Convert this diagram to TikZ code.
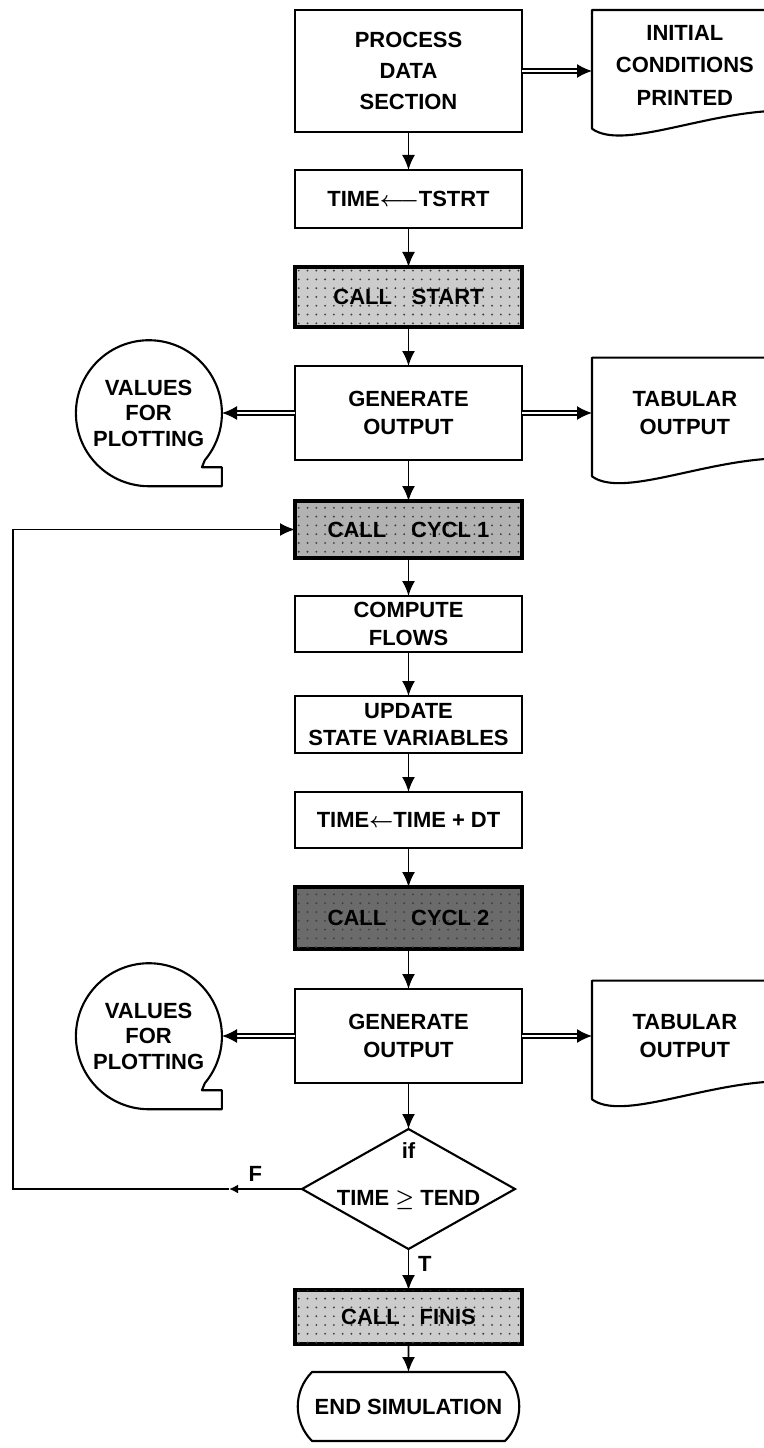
\documentclass[tikz,border=0pt]{standalone}
\usepackage{fontspec}
\setmainfont{Liberation Sans}
\usepackage{amsmath,amssymb}
\usepackage{tikz}
\usetikzlibrary{positioning,arrows.meta,shapes.geometric,shapes.misc,patterns.meta}
\tikzset{
block/.style={
draw,
line width=1.2pt,
outer sep=0pt,
minimum width=4.54cm,
minimum height=1.16cm,
align=center,
inner sep=1pt,
font=\fontsize{12.5}{15.5}\selectfont\bfseries
},
callbox/.style={
block,
line width=2.2pt,
fill=black!20,
postaction={pattern={Dots[distance=5pt,radius=0.6pt]},pattern color=black!75}
},
decision/.style={
diamond,
draw,
line width=1.2pt,
outer sep=0pt,
minimum width=4.26cm,
minimum height=2.4cm,
inner sep=0pt
},
terminal/.style={
rounded rectangle,
rounded rectangle arc length=90,
draw,
line width=1.2pt,
outer sep=0pt,
minimum width=4.5cm,
minimum height=1.38cm,
inner sep=1pt,
font=\fontsize{12.5}{15.5}\selectfont\bfseries
},
docnode/.style={
minimum width=3.7cm,
minimum height=2.2cm,
align=center,
inner sep=0pt,
font=\fontsize{12.5}{15.5}\selectfont\bfseries
},
tapenode/.style={
circle,
minimum size=2.92cm,
align=center,
inner sep=0pt,
font=\fontsize{12.5}{14.5}\selectfont\bfseries
},
outline/.style={
line width=1.2pt,
line join=round
},
lbl/.style={
inner sep=1pt,
font=\fontsize{12.5}{15.5}\selectfont\bfseries
},
arrow/.style={
-{Latex[length=3mm,width=2.6mm]},
line width=1.1pt
},
dblarrow/.style={
-{Latex[length=3mm,width=2.8mm]},
line width=0.9pt,
double,
double distance=1.4pt
}
}
\begin{document}
\begin{tikzpicture}[node distance=7.8mm]
\useasboundingbox (0,0) rectangle (15.28,-28.96);
% main column
\node[block,minimum height=2.44cm] (process) at (8.17,-1.42) {PROCESS\\[2pt]DATA\\[2pt]SECTION};
\node[block,below=7.6mm of process] (tstrt) {TIME$\boldsymbol{\longleftarrow}$TSTRT};
\node[callbox,minimum height=1.2cm,below=of tstrt] (start) {CALL\hspace{4mm}START};
\node[block,minimum height=1.88cm,below=of start] (gen1) {GENERATE\\OUTPUT};
\node[callbox,fill=black!30,minimum height=1.14cm,below=8.2mm of gen1] (cycl1) {CALL\hspace{5mm}CYCL 1};
\node[block,minimum height=1.12cm,below=7.6mm of cycl1] (flows) {COMPUTE\\FLOWS};
\node[block,minimum height=1.14cm,below=8.8mm of flows] (update) {UPDATE\\STATE VARIABLES};
\node[block,minimum height=1.12cm,below=7.8mm of update] (tdt) {TIME$\boldsymbol{\leftarrow}$TIME + DT};
\node[callbox,fill=black!58,minimum height=1.24cm,below=7.8mm of tdt] (cycl2) {CALL\hspace{5mm}CYCL 2};
\node[block,minimum height=1.88cm,below=8mm of cycl2] (gen2) {GENERATE\\OUTPUT};
\node[decision,below=9.2mm of gen2] (test) {};
\node[lbl,align=center] (testtext) at ([yshift=0.26cm]test.center) {if\\[0.4cm]TIME $\boldsymbol{\geq}$ TEND};
\node[callbox,minimum height=1.08cm,below=8.2mm of test] (finis) {CALL\hspace{4mm}FINIS};
\node[terminal,below=5.6mm of finis] (endsim) {END SIMULATION};

% side nodes
\node[docnode,right=1.4cm of process.north east,anchor=north west] (init) {INITIAL\\[3pt]CONDITIONS\\[3pt]PRINTED};
\node[tapenode,left=1.46cm of gen1] (plot1) {VALUES\\FOR\\PLOTTING};
\node[docnode,right=1.4cm of gen1] (tab1) {TABULAR\\OUTPUT};
\node[tapenode,left=1.46cm of gen2] (plot2) {VALUES\\FOR\\PLOTTING};
\node[docnode,right=1.4cm of gen2] (tab2) {TABULAR\\OUTPUT};

% document and tape outlines
\draw[outline] (init.north east) -- (init.north west) -- ([yshift=-0.16cm]init.south west) .. controls +(0.6cm,-0.44cm) and +(-1.5cm,-0.04cm) .. ([yshift=0.2cm]init.south east) -- cycle;
\draw[outline] (tab1.north east) -- (tab1.north west) -- ([yshift=-0.16cm]tab1.south west) .. controls +(0.6cm,-0.44cm) and +(-1.5cm,-0.04cm) .. ([yshift=0.2cm]tab1.south east) -- cycle;
\draw[outline] (tab2.north east) -- (tab2.north west) -- ([yshift=-0.16cm]tab2.south west) .. controls +(0.6cm,-0.44cm) and +(-1.5cm,-0.04cm) .. ([yshift=0.2cm]tab2.south east) -- cycle;
\draw[outline] (plot1.-40) arc[start angle=-40,end angle=270,radius=1.46cm] -- ++(1.46cm,0) -- ++(0,0.38cm) -- ++(-0.4cm,0) -- cycle;
\draw[outline] (plot2.-40) arc[start angle=-40,end angle=270,radius=1.46cm] -- ++(1.46cm,0) -- ++(0,0.38cm) -- ++(-0.4cm,0) -- cycle;

% connectors
\draw[dblarrow] (process.east) -- (process.east -| init.west);
\draw[arrow] (process) -- (tstrt);
\draw[arrow] (tstrt) -- (start);
\draw[arrow] (start) -- (gen1);
\draw[dblarrow] (gen1) -- (plot1);
\draw[dblarrow] (gen1) -- (tab1);
\draw[arrow] (gen1) -- (cycl1);
\draw[arrow] (cycl1) -- (flows);
\draw[arrow] (flows) -- (update);
\draw[arrow] (update) -- (tdt);
\draw[arrow] (tdt) -- (cycl2);
\draw[arrow] (cycl2) -- (gen2);
\draw[dblarrow] (gen2) -- (plot2);
\draw[dblarrow] (gen2) -- (tab2);
\draw[arrow] (gen2) -- (test);
\draw[arrow] (test) -- (finis);
\draw[arrow] (finis) -- (endsim);

% loop back on F
\coordinate (loopx) at (0.26,0);
\coordinate[left=1.46cm of test.west] (fmark);
\draw[arrow,-{Latex[length=1.8mm,width=1.8mm]}] (test.west) -- (fmark);
\draw[arrow] (fmark) -- (fmark -| loopx) |- (cycl1.west);
\node[lbl,above right=1mm and 3.5mm of fmark] (f) {F};
\node[lbl,below right=1mm and 1.5mm of test.south] (t) {T};
\end{tikzpicture}
\end{document}
